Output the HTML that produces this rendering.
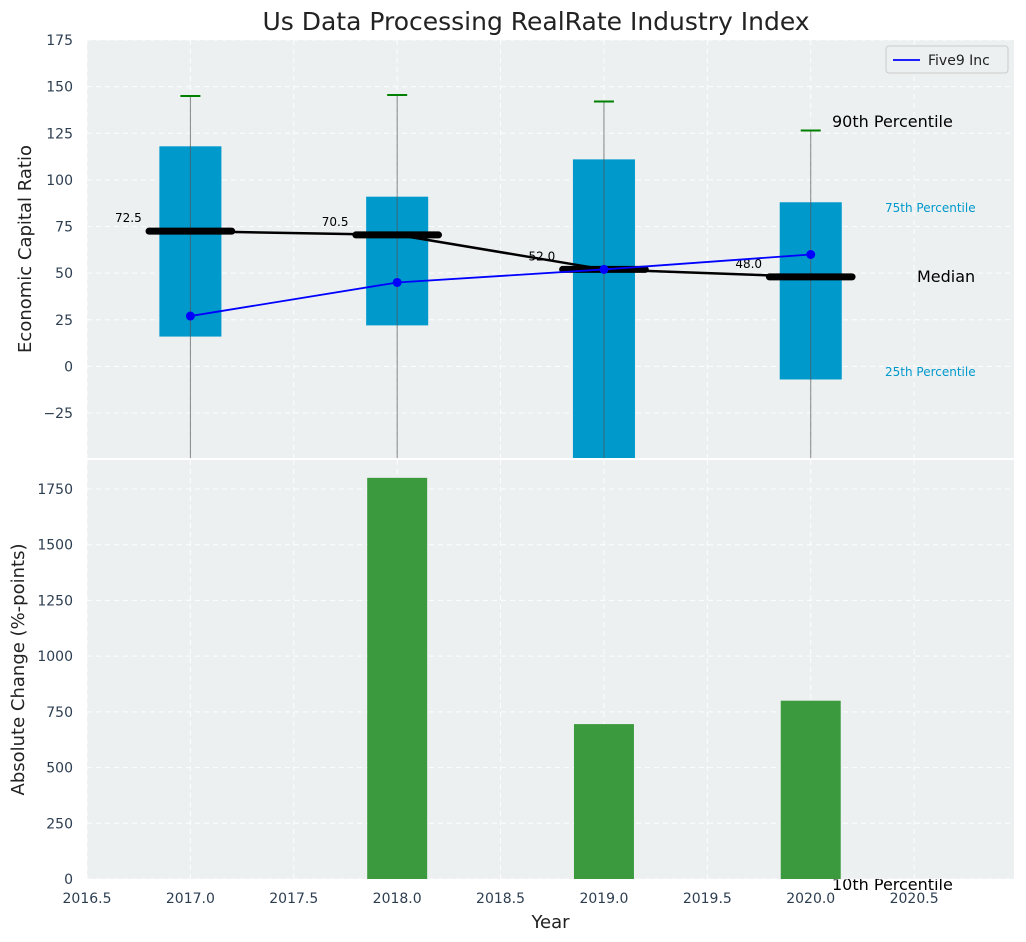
<!DOCTYPE html>
<html><head><meta charset="utf-8"><style>
html,body{margin:0;padding:0;background:#fff;}
svg{display:block;font-family:"DejaVu Sans","Liberation Sans",sans-serif;}
</style></head><body>
<svg id="chart" width="1026" height="942" xmlns="http://www.w3.org/2000/svg"></svg>
<script>
const years = [2017, 2018, 2019, 2020];
const q25 = [16, 22, -55, -7];
const q75 = [118, 91, 111, 88];
const p90 = [145, 145.5, 142, 126.5];
const p10 = [-80, -80, -80, -80];
const medians = [72.5, 70.5, 52.0, 48.0];
const five9 = [27, 45, 52, 60];
const changes = [0, 1800, 695, 800];
const xTicks = [2016.5, 2017.0, 2017.5, 2018.0, 2018.5, 2019.0, 2019.5, 2020.0, 2020.5];
const yTopTicks = [-25, 0, 25, 50, 75, 100, 125, 150, 175];
const yBotTicks = [0, 250, 500, 750, 1000, 1250, 1500, 1750];

const NS = "http://www.w3.org/2000/svg";
const svgEl = document.getElementById('chart');
const L = 87, R = 1014, T1 = 40, B1 = 458, T2 = 460, B2 = 879;
const xMin = 2016.5, xMax = 2020.983;
const yTMin = -49.1, yTMax = 175;
const yBMin = 0, yBMax = 1880;
const X = v => L + (v - xMin) / (xMax - xMin) * (R - L);
const YT = v => B1 - (v - yTMin) / (yTMax - yTMin) * (B1 - T1);
const YB = v => B2 - (v - yBMin) / (yBMax - yBMin) * (B2 - T2);

function mk(tag, attrs, parent, text) {
  const e = document.createElementNS(NS, tag);
  for (const k in attrs) e.setAttribute(k, attrs[k]);
  if (text !== undefined) e.textContent = text;
  (parent || svgEl).appendChild(e);
  return e;
}
const defsEl = mk('defs', {});
const cp1 = mk('clipPath', {id: 'c1'}, defsEl); mk('rect', {x: L, y: T1, width: R - L, height: B1 - T1}, cp1);
const cp2 = mk('clipPath', {id: 'c2'}, defsEl); mk('rect', {x: L, y: T2, width: R - L, height: B2 - T2}, cp2);

const title = mk('text', {x: 536, y: 30, 'text-anchor': 'middle', 'font-size': 25, fill: '#222'}, svgEl, 'Us Data Processing RealRate Industry Index');



const t10 = mk('text', {x: 832, y: 890, 'font-size': 16, fill: '#000'}, svgEl, '10th Percentile');



// ===== Top axes =====
const topG = mk('g', {});


mk('rect', {x: L, y: T1, width: R - L, height: B1 - T1, fill: '#ecf0f1'}, topG);
const gridT = mk('g', {stroke: '#fff', 'stroke-dasharray': '5,4', 'stroke-width': 1, opacity: 0.9}, topG);
xTicks.forEach(t => mk('line', {x1: X(t), x2: X(t), y1: T1, y2: B1}, gridT));
yTopTicks.forEach(t => mk('line', {x1: L, x2: R, y1: YT(t), y2: YT(t)}, gridT));
yTopTicks.forEach(t => {
  const e = mk('text', {x: L - 14, y: YT(t) + 5, 'text-anchor': 'end', 'font-size': 14, fill: '#2c3e50'}, topG, String(t).replace('-', '\u2212'));
  
  
});
const yl1 = mk('text', {x: 31, y: (T1 + B1) / 2, 'text-anchor': 'middle', 'font-size': 18, fill: '#222', transform: `rotate(-90 31 ${(T1 + B1) / 2})`}, topG, 'Economic Capital Ratio');



const plotT = mk('g', {'clip-path': 'url(#c1)'}, topG);
years.forEach((yr, i) => {
  const b = mk('rect', {x: X(yr - 0.15), y: YT(q75[i]), width: X(yr + 0.15) - X(yr - 0.15), height: YT(q25[i]) - YT(q75[i]), fill: '#0099cc'}, plotT);
  
  
  const w = mk('line', {x1: X(yr), x2: X(yr), y1: YT(p90[i]), y2: YT(p10[i]), stroke: '#555', 'stroke-width': 1, opacity: 0.7}, plotT);
  
  
  const c = mk('line', {x1: X(yr) - 10, x2: X(yr) + 10, y1: YT(p90[i]), y2: YT(p90[i]), stroke: 'green', 'stroke-width': 2}, plotT);
  
  
});
const medLine = mk('polyline', {points: years.map((y, i) => X(y) + ',' + YT(medians[i])).join(' '), fill: 'none', stroke: '#000', 'stroke-width': 2.5}, plotT);


years.forEach((yr, i) => {
  const m = mk('line', {x1: X(yr - 0.2), x2: X(yr + 0.2), y1: YT(medians[i]), y2: YT(medians[i]), stroke: '#000', 'stroke-width': 7, 'stroke-linecap': 'round'}, plotT);
  
  
  const lt = mk('text', {x: X(yr - 0.3), y: YT(medians[i]) - 9, 'text-anchor': 'middle', 'font-size': 12, fill: '#000'}, plotT, medians[i].toFixed(1));
  
  
});
const f9 = mk('polyline', {points: years.map((y, i) => X(y) + ',' + YT(five9[i])).join(' '), fill: 'none', stroke: '#0000ff', 'stroke-width': 1.8}, plotT);


years.forEach((yr, i) => {
  const p = mk('circle', {cx: X(yr), cy: YT(five9[i]), r: 4.5, fill: '#0000ff'}, plotT);
  
  
});
const ann = [
  ['90th Percentile', 832, 127, 16, '#000', 'p90-annotation'],
  ['75th Percentile', 885, 212, 12, '#0099cc', 'p75-annotation'],
  ['Median', 917, 282, 16, '#000', 'median-annotation'],
  ['25th Percentile', 885, 376, 12, '#0099cc', 'p25-annotation']
];
ann.forEach(a => {
  const e = mk('text', {x: a[1], y: a[2], 'font-size': a[3], fill: a[4]}, topG, a[0]);
  
  
});
const lg = mk('g', {}, topG);


mk('rect', {x: 886, y: 46, width: 122, height: 27, rx: 3, fill: '#ecf0f1', stroke: '#ccc'}, lg);
mk('line', {x1: 893, x2: 920, y1: 60, y2: 60, stroke: '#0000ff', 'stroke-width': 1.8}, lg);
mk('text', {x: 928, y: 65, 'font-size': 14, fill: '#222'}, lg, 'Five9 Inc');

// ===== Bottom axes =====
const botG = mk('g', {});


mk('rect', {x: L, y: T2, width: R - L, height: B2 - T2, fill: '#ecf0f1'}, botG);
const gridB = mk('g', {stroke: '#fff', 'stroke-dasharray': '5,4', 'stroke-width': 1, opacity: 0.9}, botG);
xTicks.forEach(t => mk('line', {x1: X(t), x2: X(t), y1: T2, y2: B2}, gridB));
yBotTicks.forEach(t => mk('line', {x1: L, x2: R, y1: YB(t), y2: YB(t)}, gridB));
yBotTicks.forEach(t => {
  const e = mk('text', {x: L - 14, y: YB(t) + 5, 'text-anchor': 'end', 'font-size': 14, fill: '#2c3e50'}, botG, String(t));
  
  
});
xTicks.forEach(t => {
  const e = mk('text', {x: X(t), y: B2 + 24, 'text-anchor': 'middle', 'font-size': 14, fill: '#2c3e50'}, botG, t.toFixed(1));
  
  
});
const yl2 = mk('text', {x: 24, y: (T2 + B2) / 2, 'text-anchor': 'middle', 'font-size': 18, fill: '#222', transform: `rotate(-90 24 ${(T2 + B2) / 2})`}, botG, 'Absolute Change (%-points)');


const xl = mk('text', {x: (L + R) / 2, y: 928, 'text-anchor': 'middle', 'font-size': 18, fill: '#222'}, botG, 'Year');


const plotB = mk('g', {'clip-path': 'url(#c2)'}, botG);
years.forEach((yr, i) => {
  const b = mk('rect', {x: X(yr - 0.145), y: YB(changes[i]), width: X(yr + 0.145) - X(yr - 0.145), height: YB(0) - YB(changes[i]), fill: '#3c9a3e'}, plotB);
  
  
});
</script>
</body></html>
